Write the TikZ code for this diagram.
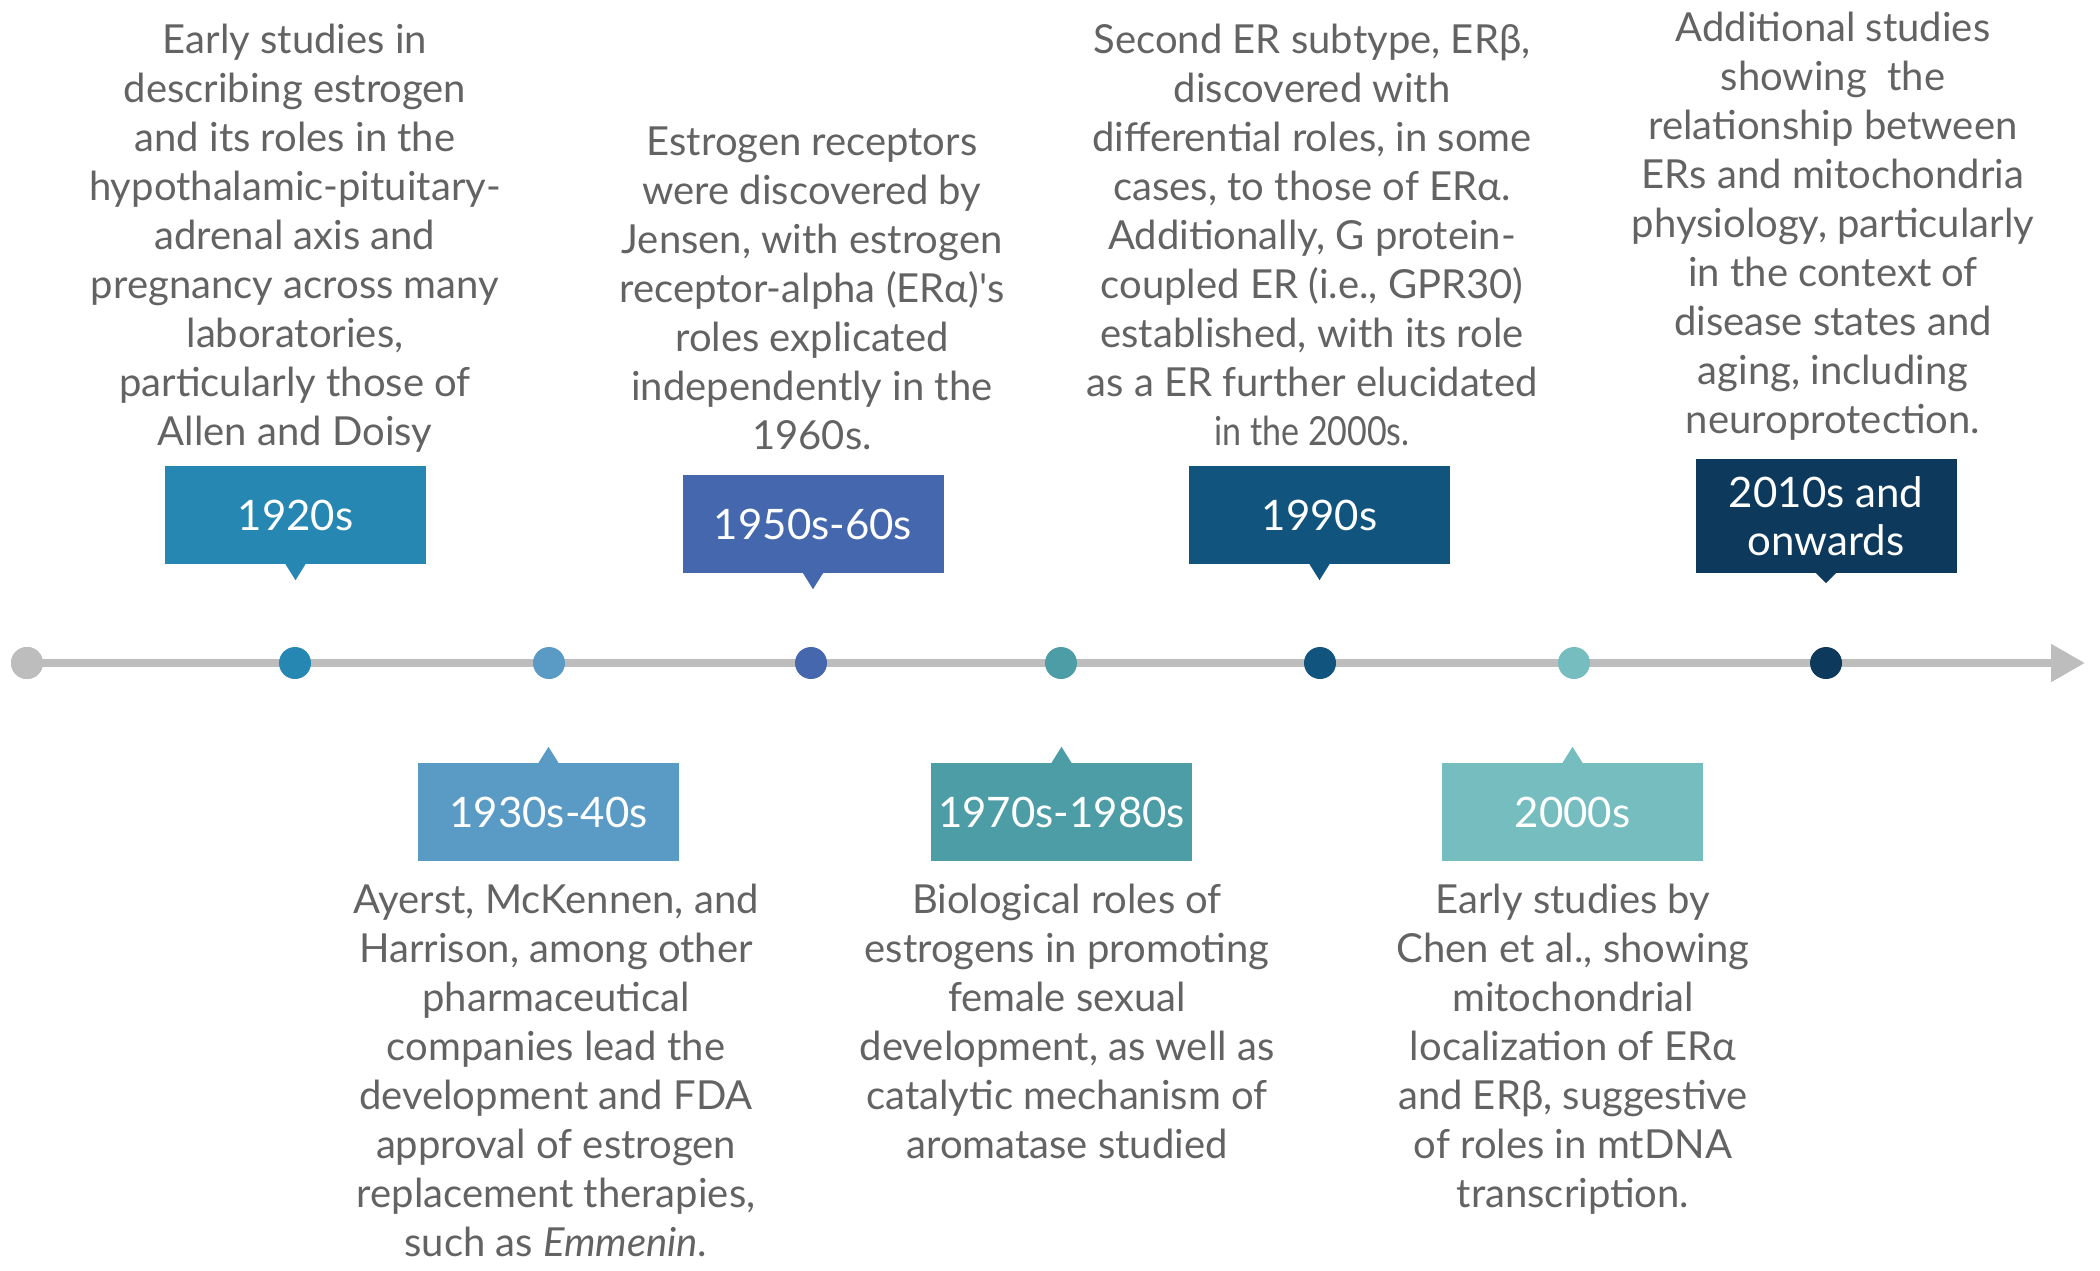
\documentclass[tikz,border=0pt]{standalone}
\usepackage{fontspec}
\setmainfont{Lato}
\usetikzlibrary{arrows.meta}
\definecolor{txt}{HTML}{636363}
\definecolor{lgray}{HTML}{BDBDBD}
\definecolor{cA}{HTML}{2587B2}
\definecolor{cB}{HTML}{5A9BC6}
\definecolor{cC}{HTML}{4467AE}
\definecolor{cD}{HTML}{4D9DA7}
\definecolor{cE}{HTML}{11557F}
\definecolor{cF}{HTML}{75BDBF}
\definecolor{cG}{HTML}{0D3A5C}
\begin{document}
\begin{tikzpicture}[x=1pt,y=-1pt,
  body/.style={text=txt, align=center, inner sep=0pt, anchor=north, font=\fontsize{40}{49}\selectfont},
  yearbox/.style={rectangle, minimum width=261pt, minimum height=98pt, inner sep=0pt, text=white, align=center, font=\fontsize{42}{48}\selectfont},
  dot/.style={circle, minimum size=32pt, inner sep=0pt},
  timeline/.style={line width=8pt, color=lgray, -{Triangle[length=34pt,width=36pt]}}
]
\useasboundingbox[fill=white] (0,0) rectangle (2100,1270);

% timeline
\node[dot, fill=lgray] (d0) at (27,663) {};
\coordinate (tend) at (2085,663);
\draw[timeline] (d0.center) -- (tend);
\node[dot, fill=lgray] at (d0.center) {};

\node[dot, fill=cA] (d1) at (295,663) {};
\node[dot, fill=cB] (d2) at (549,663) {};
\node[dot, fill=cC] (d3) at (811,663) {};
\node[dot, fill=cD] (d4) at (1061,663) {};
\node[dot, fill=cE] (d5) at (1320,663) {};
\node[dot, fill=cF] (d6) at (1574,663) {};
\node[dot, fill=cG] (d7) at (1826,663) {};

% year boxes (top)
\node[yearbox, fill=cA] (b1) at (295.5,515) {1920s};
\fill[cA] ([xshift=-10pt]b1.south) -- ([xshift=10pt]b1.south) -- ([yshift=-16pt]b1.south) -- cycle;
\node[yearbox, fill=cC] (b3) at (813,524) {1950s-60s};
\fill[cC] ([xshift=-10pt]b3.south) -- ([xshift=10pt]b3.south) -- ([yshift=-16pt]b3.south) -- cycle;
\node[yearbox, fill=cE] (b5) at (1319.5,515) {1990s};
\fill[cE] ([xshift=-10pt]b5.south) -- ([xshift=10pt]b5.south) -- ([yshift=-16pt]b5.south) -- cycle;
\node[yearbox, fill=cG, minimum height=114pt] (b7) at (1826,516) {2010s and\\onwards};
\fill[cG] ([xshift=-10pt]b7.south) -- ([xshift=10pt]b7.south) -- ([yshift=-10pt]b7.south) -- cycle;

% year boxes (bottom)
\node[yearbox, fill=cB] (b2) at (548.5,812) {1930s-40s};
\fill[cB] ([xshift=-10pt]b2.north) -- ([xshift=10pt]b2.north) -- ([yshift=16pt]b2.north) -- cycle;
\node[yearbox, fill=cD] (b4) at (1061.5,812) {1970s-1980s};
\fill[cD] ([xshift=-10pt]b4.north) -- ([xshift=10pt]b4.north) -- ([yshift=16pt]b4.north) -- cycle;
\node[yearbox, fill=cF] (b6) at (1572.5,812) {2000s};
\fill[cF] ([xshift=-10pt]b6.north) -- ([xshift=10pt]b6.north) -- ([yshift=16pt]b6.north) -- cycle;

% texts
\node[body] (t1) at (295,19) {\strut Early studies in\\describing estrogen\\and its roles in the\\hypothalamic-pituitary-\\adrenal axis and\\pregnancy across many\\laboratories,\\particularly those of\\Allen and Doisy};
\node[body] (t3) at (812,121) {\strut Estrogen receptors\\were discovered by\\Jensen, with estrogen\\receptor-alpha (ERα)\textquotesingle s\\roles explicated\\independently in the\\1960s.};
\node[body] (t5) at (1312,19) {\strut Second ER subtype, ERβ,\\discovered with\\differential roles, in some\\cases, to those of ERα.\\Additionally, G protein-\\coupled ER (i.e., GPR30)\\established, with its role\\as a ER further elucidated\\\scalebox{0.85}[1]{in the 2000s.}};
\node[body] (t7) at (1833,7) {\strut Additional studies\\showing\ \ the\\relationship between\\ERs and mitochondria\\physiology, particularly\\in the context of\\disease states and\\aging, including\\neuroprotection.};
\node[body] (t2) at (556,879) {\strut Ayerst, McKennen, and\\Harrison, among other\\pharmaceutical\\companies lead the\\development and FDA\\approval of estrogen\\replacement therapies,\\such as \textit{Emmenin}.};
\node[body] (t4) at (1067,879) {\strut Biological roles of\\estrogens in promoting\\female sexual\\development, as well as\\catalytic mechanism of\\aromatase studied};
\node[body] (t6) at (1573,879) {\strut Early studies by\\Chen et al., showing\\mitochondrial\\localization of ERα\\and ERβ, suggestive\\of roles in mtDNA\\transcription.};
\end{tikzpicture}
\end{document}
